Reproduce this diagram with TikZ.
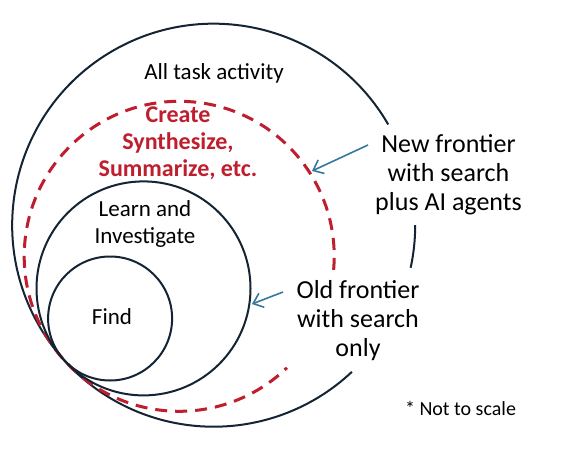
\documentclass[tikz,border=0pt]{standalone}
\usepackage{fontspec}
\setmainfont{Carlito}
\usetikzlibrary{arrows.meta}
\definecolor{ink}{HTML}{142433}
\definecolor{crimson}{HTML}{BF1E2E}
\definecolor{arrowblue}{HTML}{34789E}
\tikzset{
  inkline/.style={draw=ink, line width=2pt},
  reddash/.style={draw=crimson, line width=3pt, dash pattern=on 12pt off 8pt},
  pointer/.style={draw=arrowblue, line width=1.6pt, -{Straight Barb[length=9pt,width=15pt,line width=1.6pt]}},
  lbl/.style={inner sep=0pt, align=center, text=black},
}
\begin{document}
\begin{tikzpicture}[x=1pt,y=1pt]
\useasboundingbox (0,0) rectangle (569,450);
\fill[white] (0,0) rectangle (569,450);
% centres of the tangent circles
\coordinate (co) at (213.7,224.8);
\coordinate (cr) at (179.2,193.7);
\coordinate (cl) at (143.5,161.6);
\coordinate (cf) at (110.1,131.5);
% outer circle (broken at the labels)
\draw[inkline] ([shift={(30:201.5)}]co) arc[start angle=30, end angle=313.3, radius=201.5];
\draw[inkline] ([shift={(0:201.5)}]co) arc[start angle=0, end angle=-12.2, radius=201.5];
% red dashed frontier
\draw[reddash] ([shift={(-5:155)}]cr) arc[start angle=-5, end angle=314, radius=155];
% learn and find circles
\draw[inkline] (cl) circle[radius=107];
\draw[inkline] (cf) circle[radius=62];
% labels
\node[lbl, font=\fontsize{23}{27}\selectfont] (all) at (214,377) {All task activity};
\node[lbl, font=\fontsize{24}{27}\selectfont\bfseries, text=crimson] (create) at (178,306.5) {Create\\Synthesize,\\Summarize, etc.};
\node[lbl, font=\fontsize{23}{27}\selectfont] (learn) at (145,226.5) {Learn and\\Investigate};
\node[lbl, font=\fontsize{23}{27}\selectfont] (find) at (112,133) {Find};
\node[lbl, font=\fontsize{26}{29}\selectfont] (new) at (448.5,275.5) {New frontier\\with search\\plus AI agents};
\node[lbl, font=\fontsize{26}{29}\selectfont] (old) at (358,129) {Old frontier\\with search\\only};
\node[lbl, font=\fontsize{20}{24}\selectfont] (note) at (460.5,42) {* Not to scale};
% arrows
\coordinate (newtail) at (368,305);
\coordinate (newtip) at (312,279);
\coordinate (oldtail) at (283,158);
\coordinate (oldtip) at (252,146);
\draw[pointer] (newtail) -- (newtip);
\draw[pointer] (oldtail) -- (oldtip);
\end{tikzpicture}
\end{document}
